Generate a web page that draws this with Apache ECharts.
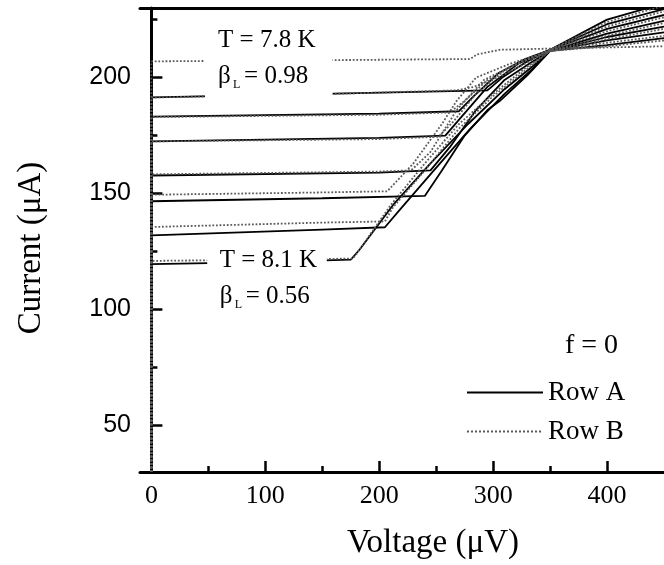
<!DOCTYPE html>
<html><head><meta charset="utf-8">
<script src="https://cdn.jsdelivr.net/npm/echarts@6/dist/echarts.min.js"></script>
<style>html,body{margin:0;padding:0;background:#fff}#c{width:664px;height:565px}</style>
</head><body><div id="c"></div>
<script>
// ---- axis ticks ----
const voltageTicks = [0, 100, 200, 300, 400];
const voltageMinorTicks = [50, 150, 250, 350];
const currentTicks = [50, 100, 150, 200];
const currentMinorTicks = [75, 125, 175, 225];

// ---- Row A (solid black) I-V curves: [voltage uV, current uA] ----
const rowA1 = [[0,119.6],[100,120.5],[175,121.5],[183,126],[212,145],[245,163],[278,180],[310,195],[335,205],[350,211.5],[400,214],[450,217]];
const rowA2 = [[0,132.0],[150,134.5],[205,135.5],[218,143],[248,160],[280,178],[310,193],[335,204],[350,211.5],[400,216],[450,219.5]];
const rowA3 = [[0,146.7],[150,148],[240,149],[255,160],[275,175],[295,186],[306,190],[330,201],[350,211.5],[400,217.5],[450,222]];
const rowA4 = [[0,157.8],[200,159],[245,160],[262,170],[285,186],[310,199],[335,207],[350,211.5],[400,219],[450,224.5]];
const rowA5 = [[0,172.5],[200,174],[258,175],[272,183],[295,196],[322,206],[350,212],[400,221],[450,227]];
const rowA6 = [[0,183.2],[200,184.5],[270,185.5],[283,192],[305,202],[328,208],[350,212],[400,223],[450,229.5]];
const rowA7 = [[0,191.5],[150,193],[295,194.5],[308,200],[330,207],[350,212],[400,225],[450,232]];

// ---- Row B (dotted grey) I-V curves ----
const rowB1 = [[0,30],[0,121],[100,121.5],[177,122],[183,126],[210,145],[240,163],[270,180],[300,193],[328,204],[350,211.5],[400,213.5],[450,216]];
const rowB2 = [[0,30],[0,135.6],[150,137.5],[205,138],[212,144],[240,160],[270,178],[300,192],[328,203],[350,211.5],[400,215],[450,218]];
const rowB3 = [[0,30],[0,149.5],[150,150.5],[207,151],[230,163],[255,180],[268,190],[285,200],[315,206],[350,211.5],[400,216.5],[450,221]];
const rowB4 = [[0,30],[0,158.3],[200,159.5],[228,160],[245,168],[268,186],[292,199],[325,207],[350,211.5],[400,218],[450,223.5]];
const rowB5 = [[0,30],[0,172.5],[200,173.5],[252,174.5],[265,181],[285,193],[312,204],[350,212],[400,220],[450,226]];
const rowB6 = [[0,30],[0,183],[200,184],[262,185],[275,190],[295,199],[322,206],[350,212],[400,222],[450,228.5]];
const rowB7 = [[0,30],[0,191.4],[160,193],[268,194.5],[283,196],[306,200.5],[328,206],[350,212],[400,224],[450,231]];
const rowB8 = [[0,30],[0,207],[150,207.5],[280,208],[286,210],[306,212],[350,212.5],[400,213],[450,213.5]];

const rowACurves = [rowA1, rowA2, rowA3, rowA4, rowA5, rowA6, rowA7];
const rowBCurves = [rowB1, rowB2, rowB3, rowB4, rowB5, rowB6, rowB7, rowB8];

const serif = '"Liberation Serif","DejaVu Serif",serif';
const sans = '"Liberation Sans",Arial,sans-serif';
const greyLine = '#5a5a5a';

const chart = echarts.init(document.getElementById('c'));
const series = [];
rowACurves.forEach(d => series.push({
  name: 'Row A', type: 'line', data: d, symbol: 'none', z: 3,
  lineStyle: { color: '#000', width: 1.8 }, itemStyle: { color: '#000' }
}));
rowBCurves.forEach(d => series.push({
  name: 'Row B', type: 'line', data: d, symbol: 'none', z: 4,
  lineStyle: { color: greyLine, width: 1.8, type: 'dotted' }, itemStyle: { color: greyLine }
}));

const tickStyle = { color: '#000', width: 2.5 };
const blank = { axisLabel: { show: false }, splitLine: { show: false } };
chart.setOption({
  animation: false,
  grid: { left: 140, right: 0, top: 8, bottom: 91 },
  xAxis: [{
    type: 'value', min: -10, max: 450, position: 'bottom',
    axisLine: { show: true, lineStyle: { color: '#000', width: 3 } },
    axisTick: { show: true, inside: true, length: 11, customValues: voltageTicks, lineStyle: tickStyle },
    axisLabel: { customValues: voltageTicks, fontFamily: serif, fontSize: 26, color: '#000', margin: 11 },
    splitLine: { show: false },
    name: 'Voltage (\u03bcV)', nameLocation: 'middle', nameGap: 55,
    nameTextStyle: { fontFamily: serif, fontSize: 33, color: '#000', padding: [0, 0, 0, 62] }
  }, Object.assign({
    type: 'value', min: -10, max: 450, position: 'bottom',
    axisLine: { show: false },
    axisTick: { show: true, inside: true, length: 6, customValues: voltageMinorTicks, lineStyle: tickStyle }
  }, blank), Object.assign({
    type: 'value', min: -10, max: 450, position: 'top',
    axisLine: { show: true, lineStyle: { color: '#000', width: 3 } },
    axisTick: { show: false }
  }, blank)],
  yAxis: [{
    type: 'value', min: 30, max: 230, position: 'left',
    axisLine: { show: true, lineStyle: { color: '#000', width: 3 } },
    axisTick: { show: true, inside: true, length: 11, customValues: currentTicks, lineStyle: tickStyle },
    axisLabel: { customValues: currentTicks, fontFamily: sans, fontSize: 25, color: '#000', margin: 9 },
    splitLine: { show: false },
    name: 'Current (\u03bcA)', nameLocation: 'middle', nameGap: 92, nameRotate: 90,
    nameTextStyle: { fontFamily: serif, fontSize: 33, color: '#000', padding: [0, 16, 0, 0] }
  }, Object.assign({
    type: 'value', min: 30, max: 230, position: 'left',
    axisLine: { show: false },
    axisTick: { show: true, inside: true, length: 6, customValues: currentMinorTicks, lineStyle: tickStyle }
  }, blank)],
  legend: {
    data: ['Row A', 'Row B'], orient: 'vertical', left: 461, top: 374,
    itemWidth: 76, itemHeight: 14, itemGap: 12,
    itemStyle: { color: 'rgba(0,0,0,0)', borderWidth: 0, opacity: 0 },
    textStyle: { fontFamily: serif, fontSize: 27, color: '#000' }
  },
  series: series
});

// ---- annotations (positioned from data coordinates) ----
const px = (v, i) => chart.convertToPixel({ xAxisIndex: 0, yAxisIndex: 0 }, [v, i]);
function box(v0, v1, i0, i1) {
  const a = px(v0, i1), b = px(v1, i0);
  return { type: 'rect', z: 50, shape: { x: a[0], y: a[1], width: b[0] - a[0], height: b[1] - a[1] }, style: { fill: '#fff' } };
}
function label(x, y, s, size, align) {
  return { type: 'text', z: 60, x: x, y: y,
    style: { text: s, font: size + 'px ' + serif, fill: '#000', align: align || 'left', verticalAlign: 'middle', textAlign: align || 'left', textVerticalAlign: 'middle' } };
}
function txt(v, i, s, size) { const p = px(v, i); return label(p[0], p[1], s, size); }
function beta(v, i, value) {
  const p = px(v, i);
  return [label(p[0], p[1], '\u03b2', 25), label(p[0] + 15, p[1] + 8, 'L', 12), label(p[0] + 26, p[1], '= ' + value, 25)];
}
const graphics = [
  box(47, 159, 188, 212),
  box(49, 154, 98, 126),
  txt(58.5, 216, 'T = 7.8 K', 25),
  ...beta(58.5, 200.4, '0.98'),
  txt(60, 121.4, 'T = 8.1 K', 25),
  ...beta(60, 105.5, '0.56')
];
const f0 = px(0, 84.5);
graphics.push(label(618, f0[1], 'f = 0', 28, 'right'));
chart.setOption({ graphic: graphics });
</script></body></html>
